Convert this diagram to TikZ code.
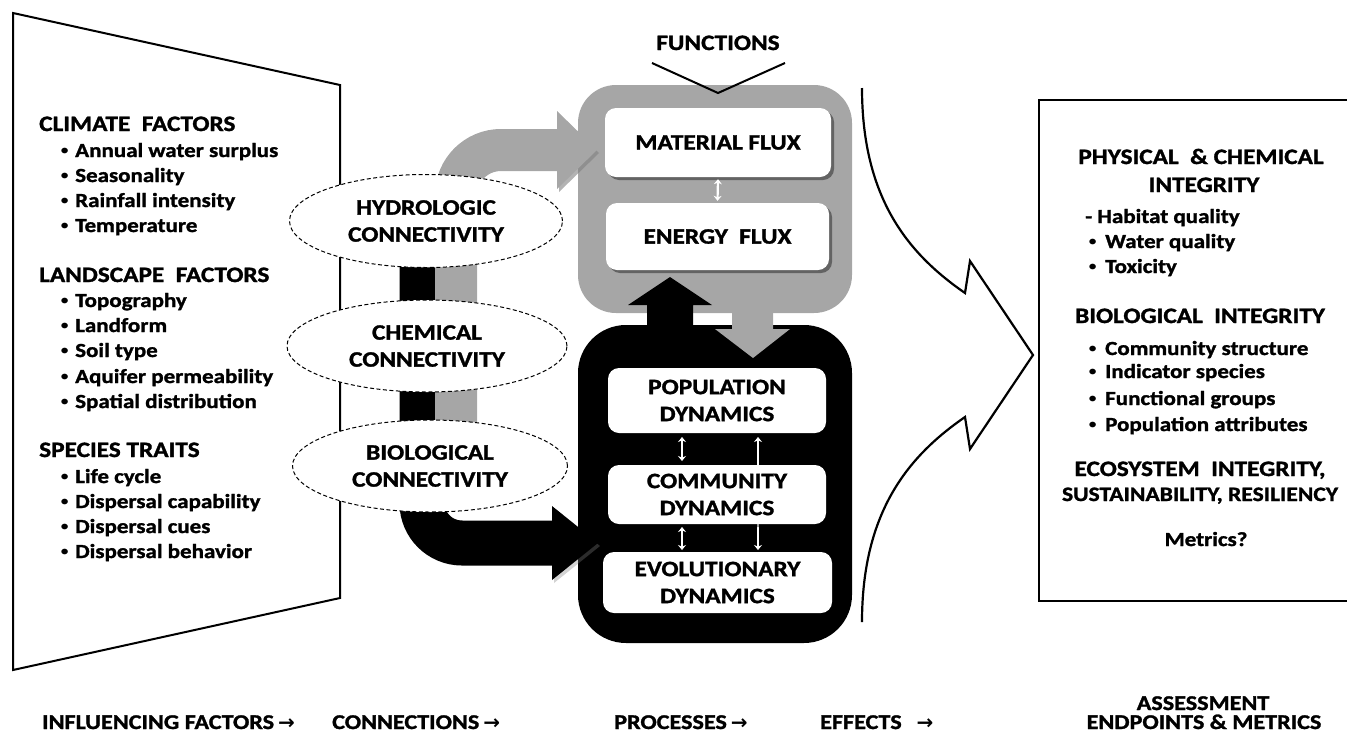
\documentclass[tikz,border=0pt]{standalone}
\usepackage{fontspec}
\setmainfont{Carlito}[FakeStretch=1.15, BoldFeatures={FakeBold=1.4}]
\newfontfamily\arrowfont{DejaVu Sans}
\usetikzlibrary{shapes.geometric,arrows.meta,shadows,calc}
\definecolor{gr}{RGB}{166,166,166}
\tikzset{
  lst/.style={anchor=base west, inner sep=0pt, font=\fontsize{20}{24}\selectfont\bfseries},
  hd/.style={anchor=base west, inner sep=0pt, font=\fontsize{22}{26}\selectfont\bfseries},
  hdc/.style={anchor=base, inner sep=0pt, font=\fontsize{22}{26}\selectfont\bfseries},
  conn/.style={ellipse, draw, line width=1pt, dash pattern=on 4pt off 2.5pt, fill=white,
     align=center, inner sep=0pt, font=\fontsize{22}{27}\selectfont\bfseries},
  wbox/.style={fill=white, rounded corners=11pt, align=center, inner sep=0pt,
     font=\fontsize{22}{27}\selectfont\bfseries,
     drop shadow={shadow xshift=3pt, shadow yshift=-3pt, opacity=0.4, fill=black}},
  dbl/.style={white, line width=2.2pt, {Stealth[length=5pt,width=8pt]}-{Stealth[length=5pt,width=8pt]}},
  stage/.style={anchor=base west, inner sep=0pt, font=\fontsize{21}{25}\selectfont\bfseries},
}
\newcommand{\bdot}{\raisebox{0.2ex}{\fontsize{16}{16}\selectfont\mdseries •}}
\newcommand{\bul}[1]{\makebox[15pt][l]{\bdot}#1}
\newcommand{\rbul}[1]{\makebox[17pt][l]{\bdot}#1}
\newcommand{\arr}{\hspace{4pt}{\arrowfont\bfseries\fontsize{20}{24}\selectfont →}}
\begin{document}
\begin{tikzpicture}[x=1pt,y=-1pt]
\useasboundingbox (0,0) rectangle (1347,737);
% left trapezoid
\draw[line width=2pt] (13,13) -- (340,85) -- (340,598) -- (13,670) -- cycle;
\node[hd] (clim) at (39,131) {CLIMATE\ \ FACTORS};
\node[lst] (c1) at (60,157) {\bul{Annual water surplus}};
\node[lst] (c2) at (60,182) {\bul{Seasonality}};
\node[lst] (c3) at (60,207) {\bul{Rainfall intensity}};
\node[lst] (c4) at (60,232) {\bul{Temperature}};
\node[hd] (land) at (39,282) {LANDSCAPE\ \ FACTORS};
\node[lst] (l1) at (60,307) {\bul{Topography}};
\node[lst] (l2) at (60,332) {\bul{Landform}};
\node[lst] (l3) at (60,357) {\bul{Soil type}};
\node[lst] (l4) at (60,383) {\bul{Aquifer permeability}};
\node[lst] (l5) at (60,408) {\bul{Spatial distribution}};
\node[hd] (spec) at (39,457) {SPECIES TRAITS};
\node[lst] (s1) at (60,483) {\bul{Life cycle}};
\node[lst] (s2) at (60,508) {\bul{Dispersal capability}};
\node[lst] (s3) at (60,533) {\bul{Dispersal cues}};
\node[lst] (s4) at (60,558) {\bul{Dispersal behavior}};

% process boxes
\fill[gr, rounded corners=38pt] (578,85) rectangle (852,313);
\fill[black, rounded corners=48pt] (578,325) rectangle (852,643);
\node[hdc] (func) at (718,50) {FUNCTIONS};
\draw[line width=2pt] (652,63) -- (718,93) -- (785,63);
\node[wbox, minimum width=226pt, minimum height=69pt] (mat) at (718,142.5) {MATERIAL FLUX};
\node[wbox, minimum width=223pt, minimum height=67pt] (ene) at (717.5,236.5) {ENERGY\ \ FLUX};
\draw[dbl] ($(mat.south)+(0,2)$) -- ($(ene.north)+(0,-2)$);
% connection arrows between boxes
\fill[black] (647,335) -- (647,305) -- (628,305) -- (670,277) -- (712,305) -- (693,305) -- (693,335) -- cycle;
\fill[gr] (732,300) -- (732,329) -- (715,329) -- (753,358) -- (790,329) -- (773,329) -- (773,300) -- cycle;
\node[wbox, minimum width=218pt, minimum height=65pt] (pop) at (717,400.5) {POPULATION\\DYNAMICS};
\node[wbox, minimum width=229pt, minimum height=61pt] (evo) at (717.5,582.5) {EVOLUTIONARY\\DYNAMICS};
\draw[dbl] (758,437) -- (758,550);
\node[wbox, minimum width=218pt, minimum height=59pt] (com) at (717,494.5) {COMMUNITY\\DYNAMICS};
\draw[dbl] (682,437) -- (682,461);
\draw[dbl] (682,527) -- (682,550);

% connectivity arrows
\draw[black, line width=45pt, rounded corners=40pt] (422,230) -- (422,543) -- (556,543);
\fill[black, drop shadow={shadow xshift=2pt, shadow yshift=-3pt, opacity=0.35}] (552,506) -- (598,543) -- (552,580) -- cycle;
\draw[gr, line width=42pt, rounded corners=45pt] (456,470) -- (456,150) -- (560,150);
\fill[gr, drop shadow={shadow xshift=2pt, shadow yshift=-3pt, opacity=0.6}] (557,111) -- (597,150) -- (557,189) -- cycle;

\node[conn, minimum width=273pt, minimum height=93pt] (hyd) at (426,221) {HYDROLOGIC\\CONNECTIVITY};
\node[conn, minimum width=280pt, minimum height=92pt] (chem) at (427,346) {CHEMICAL\\CONNECTIVITY};
\node[conn, minimum width=275pt, minimum height=92pt] (bio) at (430,466) {BIOLOGICAL\\CONNECTIVITY};

% big open arrow
\draw[line width=2.2pt, line join=miter] (862,88) .. controls (862,200) and (910,255) .. (965,293)
  -- (970,261) -- (1033,355) -- (970,449) -- (965,417)
  .. controls (910,455) and (862,510) .. (862,622);

% right box
\draw[line width=1.5pt] (1039,100) rectangle (1365,601);
\node[hdc] (phys) at (1201,164) {PHYSICAL\ \ \& CHEMICAL};
\node[hdc] (integ) at (1204,192) {INTEGRITY};
\node[lst] (r1) at (1085,223) {- Habitat quality};
\node[lst] (r2) at (1088,248) {\rbul{Water quality}};
\node[lst] (r3) at (1088,273) {\rbul{Toxicity}};
\node[hdc] (biol) at (1200,323) {BIOLOGICAL\ \ INTEGRITY};
\node[lst] (b1) at (1088,355) {\rbul{Community structure}};
\node[lst] (b2) at (1088,378) {\rbul{Indicator species}};
\node[lst] (b3) at (1088,405) {\rbul{Functional groups}};
\node[lst] (b4) at (1088,431) {\rbul{Population attributes}};
\node[hdc] (eco) at (1200,476) {ECOSYSTEM\ \ INTEGRITY,};
\node[hdc, font=\fontsize{20.5}{24}\selectfont\bfseries] (sus) at (1200,501) {SUSTAINABILITY,\ RESILIENCY};
\node[anchor=base, inner sep=0pt, font=\fontsize{20}{24}\selectfont\bfseries] (met) at (1206,546) {Metrics?};

% bottom stage labels
\node[stage] (st1) at (42,729) {INFLUENCING FACTORS\arr};
\node[stage] (st2) at (332,729) {CONNECTIONS\arr};
\node[stage] (st3) at (614,729) {PROCESSES\arr};
\node[stage] (st4) at (820,729) {EFFECTS\ \ \arr};
\node[stage, anchor=base] (st5a) at (1203,710) {ASSESSMENT};
\node[stage, anchor=base] (st5b) at (1204,729) {ENDPOINTS \& METRICS};
\end{tikzpicture}
\end{document}
